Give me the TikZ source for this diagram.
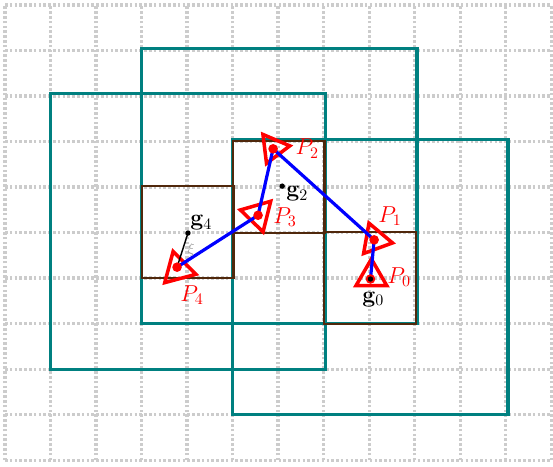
\documentclass[tikz,border=0pt]{standalone}
\definecolor{gridgray}{gray}{0.8}
\definecolor{boxbrown}{RGB}{80,40,12}
\begin{document}
\begin{tikzpicture}[
  gridline/.style={gridgray, line width=2pt, dash pattern=on 1.6pt off 1.4pt},
  region/.style={teal, line width=2pt},
  cellbox/.style={boxbrown, line width=1.3pt},
  pathline/.style={blue, line width=2pt},
  robot/.style={red, line width=2.2pt, line join=miter},
  pdot/.style={circle, fill=red, inner sep=0pt, minimum size=6pt},
  gdot/.style={circle, fill=black, inner sep=0pt, minimum size=3.4pt},
  plabel/.style={text=red, font=\Large, inner sep=0pt},
  glabel/.style={font=\Large, inner sep=0pt}
]
\useasboundingbox (-0.11,-0.15) rectangle (12.04,10.11);
\foreach \x in {0,...,12} \draw[gridline] (\x,0) -- (\x,10);
\foreach \y in {0,...,10} \draw[gridline] (0,\y) -- (12,\y);

\draw[region] (3,3) rectangle (9.05,9.05);
\draw[region] (1,2) rectangle (7.05,8.05);
\draw[region] (5,1) rectangle (11.05,7.05);

\draw[cellbox] (3,4) rectangle (5.02,6.02);
\draw[cellbox] (5,5) rectangle (7.02,7.02);
\draw[cellbox] (7,3) rectangle (9.02,5.02);

\coordinate (P0) at (8.03,3.98);
\coordinate (P1) at (8.11,4.84);
\coordinate (P2) at (5.89,6.84);
\coordinate (P3) at (5.56,5.38);
\coordinate (P4) at (3.78,4.24);
\coordinate (g0) at (8.03,3.98);
\coordinate (g2) at (6.09,6.02);
\coordinate (g4) at (4.02,4.99);

\coordinate (T0) at (8.05,4.03);
\coordinate (T1) at (8.13,4.84);
\coordinate (T2) at (5.89,6.86);
\coordinate (T3) at (5.56,5.40);
\coordinate (T4) at (3.80,4.19);

\draw[robot, shift={(T0)}, rotate=90] (0:0.39) -- (120:0.39) -- (240:0.39) -- cycle;
\draw[robot, shift={(T1)}, rotate=-10] (0:0.39) -- (120:0.39) -- (240:0.39) -- cycle;
\draw[robot, shift={(T2)}, rotate=7] (0:0.37) -- (120:0.37) -- (240:0.37) -- cycle;
\draw[robot, shift={(T3)}, rotate=46] (0:0.4) -- (120:0.4) -- (240:0.4) -- cycle;
\draw[robot, shift={(T4)}, rotate=-15] (0:0.41) -- (120:0.41) -- (240:0.41) -- cycle;

\draw[pathline] (P0) -- (P1) -- (P2) -- (P3) -- (P4);
\draw[black, line width=0.9pt] (g4) -- (P4);
\node[text=gray!75, font=\small, inner sep=0pt] (xi) at (4.09,4.62) {$\xi$};

\node[pdot] (d0) at (P0) {};
\node[pdot] (d1) at (P1) {};
\node[pdot] (d2) at (P2) {};
\node[pdot] (d3) at (P3) {};
\node[pdot] (d4) at (P4) {};

\node[gdot] (k0) at (g0) {};
\node[gdot] (k2) at (g2) {};
\node[gdot] (k4) at (g4) {};

\node[plabel] (l0) at (8.66,4.02) {$P_0$};
\node[plabel] (l1) at (8.46,5.36) {$P_1$};
\node[plabel] (l2) at (6.64,6.84) {$P_2$};
\node[plabel] (l3) at (6.15,5.34) {$P_3$};
\node[plabel] (l4) at (4.11,3.62) {$P_4$};
\node[glabel] (m0) at (8.09,3.53) {$\mathbf{g}_0$};
\node[glabel] (m2) at (6.42,5.85) {$\mathbf{g}_2$};
\node[glabel] (m4) at (4.31,5.21) {$\mathbf{g}_4$};
\end{tikzpicture}
\end{document}
